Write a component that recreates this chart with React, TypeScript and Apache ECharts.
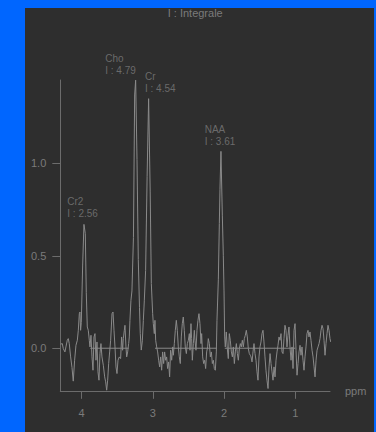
import React, { useEffect, useRef } from "react";
import * as echarts from "echarts";

// Spectrum samples (ppm, intensity)
const ppm = [
  4.295, 4.272, 4.258, 4.235, 4.221, 4.202, 4.188, 4.174, 4.155, 4.136,
  4.118, 4.099, 4.08, 4.061, 4.047, 4.033, 4.024, 4.015, 4.005, 3.986,
  3.968, 3.949, 3.935, 3.921, 3.907, 3.893, 3.883, 3.869, 3.855, 3.841,
  3.827, 3.813, 3.799, 3.785, 3.771, 3.757, 3.743, 3.729, 3.715, 3.696,
  3.677, 3.663, 3.649, 3.635, 3.621, 3.607, 3.593, 3.574, 3.56, 3.546,
  3.532, 3.518, 3.504, 3.49, 3.471, 3.453, 3.439, 3.425, 3.415, 3.401,
  3.392, 3.378, 3.368, 3.354, 3.34, 3.331, 3.322, 3.308, 3.294, 3.273,
  3.256, 3.242, 3.223, 3.205, 3.188, 3.177, 3.163, 3.148, 3.134, 3.12,
  3.102, 3.081, 3.06, 3.038, 3.022, 3.003, 2.994, 2.98, 2.971, 2.961,
  2.947, 2.933, 2.919, 2.905, 2.891, 2.877, 2.863, 2.849, 2.835, 2.821,
  2.807, 2.793, 2.779, 2.765, 2.751, 2.736, 2.722, 2.713, 2.699, 2.685,
  2.671, 2.657, 2.643, 2.629, 2.615, 2.601, 2.587, 2.573, 2.559, 2.545,
  2.53, 2.516, 2.502, 2.488, 2.479, 2.465, 2.456, 2.446, 2.432, 2.418,
  2.409, 2.395, 2.381, 2.367, 2.353, 2.339, 2.324, 2.315, 2.301, 2.287,
  2.273, 2.259, 2.245, 2.231, 2.222, 2.207, 2.193, 2.179, 2.165, 2.151,
  2.137, 2.123, 2.109, 2.1, 2.081, 2.067, 2.058, 2.044, 2.025, 2.011,
  2.001, 1.992, 1.983, 1.969, 1.955, 1.941, 1.927, 1.913, 1.898, 1.884,
  1.87, 1.856, 1.842, 1.828, 1.814, 1.8, 1.786, 1.772, 1.758, 1.744,
  1.73, 1.716, 1.702, 1.688, 1.674, 1.66, 1.646, 1.632, 1.622, 1.608,
  1.594, 1.58, 1.566, 1.552, 1.538, 1.524, 1.51, 1.496, 1.482, 1.468,
  1.454, 1.44, 1.426, 1.412, 1.398, 1.383, 1.369, 1.355, 1.341, 1.327,
  1.313, 1.299, 1.285, 1.271, 1.257, 1.243, 1.229, 1.215, 1.201, 1.187,
  1.173, 1.159, 1.145, 1.131, 1.117, 1.103, 1.089, 1.075, 1.06, 1.046,
  1.032, 1.018, 1.004, 0.99, 0.976, 0.962, 0.948, 0.934, 0.92, 0.906,
  0.892, 0.878, 0.864, 0.85, 0.836, 0.822, 0.808, 0.794, 0.78, 0.765,
  0.751, 0.737, 0.723, 0.709, 0.695, 0.681, 0.667, 0.653, 0.639, 0.625,
  0.611, 0.597, 0.583, 0.569, 0.555, 0.541, 0.527, 0.513, 0.503,
];
const intensity = [
  0.022, 0.025, -0.002, -0.02, 0.007, 0.043, 0.052, 0.025, -0.047, -0.104,
  -0.178, -0.065, 0.016, 0.043, 0.097, 0.187, 0.196, 0.097, 0.14, 0.45,
  0.67, 0.62, 0.3, 0.115, 0.097, 0.043, 0.007, 0.07, -0.047, -0.119,
  0.061, 0.079, -0.065, 0.034, -0.128, -0.173, -0.029, 0.025, -0.047, -0.092,
  -0.155, -0.182, -0.227, -0.173, -0.083, -0.02, 0.043, 0.187, 0.196, 0.097,
  0.007, -0.101, -0.137, -0.065, -0.047, -0.056, 0.061, -0.011, 0.052, 0.097,
  0.124, 0.007, -0.047, -0.02, 0.025, 0.061, 0.151, 0.259, 0.31, 0.6,
  1.37, 1.45, 1.02, 0.48, 0.22, 0.08, -0.01, 0.04, 0.15, 0.26,
  0.42, 0.93, 1.35, 0.85, 0.35, 0.187, 0.133, 0.079, 0.151, 0.043,
  0.007, -0.02, -0.065, -0.101, -0.047, -0.119, -0.02, -0.083, -0.02, -0.065,
  -0.047, -0.11, -0.074, -0.155, -0.011, -0.065, 0.007, -0.038, 0.025, 0.097,
  0.151, 0.097, 0.007, -0.047, -0.083, 0.061, 0.133, 0.169, 0.097, 0.007,
  -0.029, 0.025, 0.043, 0.079, -0.011, 0.133, 0.052, -0.065, 0.025, 0.097,
  0.043, -0.011, 0.097, 0.151, 0.187, 0.133, 0.025, 0.079, -0.047, -0.083,
  -0.065, -0.11, -0.02, 0.007, 0.052, 0.025, -0.047, -0.02, -0.083, -0.065,
  -0.11, -0.119, -0.02, 0.151, 0.37, 0.675, 0.86, 1.065, 0.72, 0.5,
  0.31, 0.061, 0.007, 0.088, -0.002, -0.056, 0.079, 0.043, -0.02, -0.047,
  0.007, -0.083, -0.02, 0.025, -0.029, -0.065, -0.002, 0.025, 0.007, 0.043,
  0.007, 0.052, 0.07, 0.097, 0.061, -0.002, -0.029, -0.038, -0.047, -0.074,
  -0.02, 0.025, -0.029, -0.065, -0.128, -0.173, -0.047, 0.007, 0.034, 0.079,
  0.097, 0.034, -0.047, -0.119, -0.173, -0.218, -0.101, -0.029, -0.083, -0.128,
  -0.173, -0.101, -0.155, -0.065, -0.02, 0.016, 0.061, 0.043, 0.079, -0.02,
  -0.029, 0.052, 0.124, 0.097, 0.007, 0.07, 0.115, 0.007, -0.065, 0.007,
  -0.11, 0.097, 0.133, -0.011, -0.146, -0.083, -0.02, 0.016, -0.038, 0.007,
  -0.065, -0.119, -0.047, 0.007, 0.079, 0.097, 0.061, 0.088, 0.043, -0.011,
  -0.047, -0.101, -0.155, -0.065, -0.011, 0.007, 0.025, 0.052, 0.097, 0.124,
  0.106, 0.043, -0.038, 0.025, 0.079, 0.124, 0.097, 0.052, 0.034,
];

// Integration baselines (ppm ranges at intensity 0)
const baselineStart = [3.88, 2.97, 1.99];
const baselineEnd = [3.34, 2.1, 1.0];

// Peak annotations
const peakNames = ["Cr2", "Cho", "Cr", "NAA"];
const peakIntegrals = ["2.56", "4.79", "4.54", "3.61"];
const labelPpm = [4.202, 3.669, 3.111, 2.272];
const labelLevel = [0.704, 1.477, 1.381, 1.091];

const xTicks = [1, 2, 3, 4];
const yTicks = [0, 0.5, 1.0];
const titleText = "I : Integrale";
const xName = "ppm";

const FONT = "'Liberation Sans', Arial, Helvetica, sans-serif";
const TEXT = "#7b7b7b";
const AXIS = "#6c6c6c";
const CURVE = "#8a8a8a";

export default function App() {
  const ref = useRef<HTMLDivElement>(null);

  useEffect(() => {
    if (!ref.current) return;
    const chart = echarts.init(ref.current, undefined, { renderer: "svg" });

    const spectrum = ppm.map((p, i) => [p, intensity[i]]);
    const baselineSeries = baselineStart.map((s, i) => ({
      type: "line",
      data: [
        [s, 0],
        [baselineEnd[i], 0],
      ],
      showSymbol: false,
      silent: true,
      lineStyle: { color: CURVE, width: 1 },
    }));

    const labelSeries = (line: 0 | 1) => ({
      type: "scatter",
      clip: false,
      silent: true,
      symbolSize: 0,
      data: peakNames.map((n, i) => ({
        value: [labelPpm[i], labelLevel[i]],
        name: n,
        label: {
          show: true,
          position: [0, line === 0 ? -11.6 : 0.4],
          align: "left",
          verticalAlign: "bottom",
          formatter: line === 0 ? n : `I : ${peakIntegrals[i]}`,
          color: TEXT,
          fontSize: 10,
          lineHeight: 10,
          fontFamily: FONT,
        },
      })),
    });

    chart.setOption({
      animation: false,
      backgroundColor: "#2e2e2e",
      grid: {
        left: 35.3,
        top: 72,
        right: 44,
        bottom: 40.7,
        outerBoundsMode: "none",
        containLabel: false,
      },
      graphic: [
        {
          type: "text",
          x: 170.2,
          y: 5,
          style: {
            text: titleText,
            fill: TEXT,
            fontSize: 11,
            fontFamily: FONT,
            align: "center",
            verticalAlign: "middle",
          },
        },
      ],
      xAxis: {
        type: "value",
        inverse: true,
        min: 0.513,
        max: 4.3,
        name: xName,
        nameLocation: "start",
        nameGap: 15,
        nameTextStyle: { color: TEXT, fontSize: 11, fontFamily: FONT },
        axisLine: { show: true, onZero: false, lineStyle: { color: AXIS, width: 1 } },
        axisTick: {
          show: true,
          inside: false,
          length: 7.5,
          customValues: xTicks,
          lineStyle: { color: AXIS, width: 1 },
        },
        axisLabel: {
          show: true,
          customValues: xTicks,
          margin: 16,
          color: TEXT,
          fontSize: 11,
          fontFamily: FONT,
          formatter: (v: number) => String(v),
        },
        splitLine: { show: false },
      },
      yAxis: {
        type: "value",
        min: -0.233,
        max: 1.451,
        axisLine: { show: true, onZero: false, lineStyle: { color: AXIS, width: 1 } },
        axisTick: {
          show: true,
          inside: false,
          length: 8,
          customValues: yTicks,
          lineStyle: { color: AXIS, width: 1 },
        },
        axisLabel: {
          show: true,
          customValues: yTicks,
          margin: 14,
          color: TEXT,
          fontSize: 11,
          fontFamily: FONT,
          formatter: (v: number) => v.toFixed(1),
        },
        splitLine: { show: false },
      },
      series: [
        {
          type: "line",
          data: spectrum,
          showSymbol: false,
          clip: false,
          silent: true,
          lineStyle: { color: CURVE, width: 1 },
        },
        ...baselineSeries,
        labelSeries(0),
        labelSeries(1),
      ],
    });

    return () => chart.dispose();
  }, []);

  return (
    <div
      style={{
        position: "absolute",
        left: 0,
        top: 0,
        width: 376,
        height: 432,
        background: "#0066ff",
        overflow: "hidden",
      }}
    >
      <div
        ref={ref}
        style={{ position: "absolute", left: 25, top: 8, width: 349, height: 424 }}
      />
    </div>
  );
}
